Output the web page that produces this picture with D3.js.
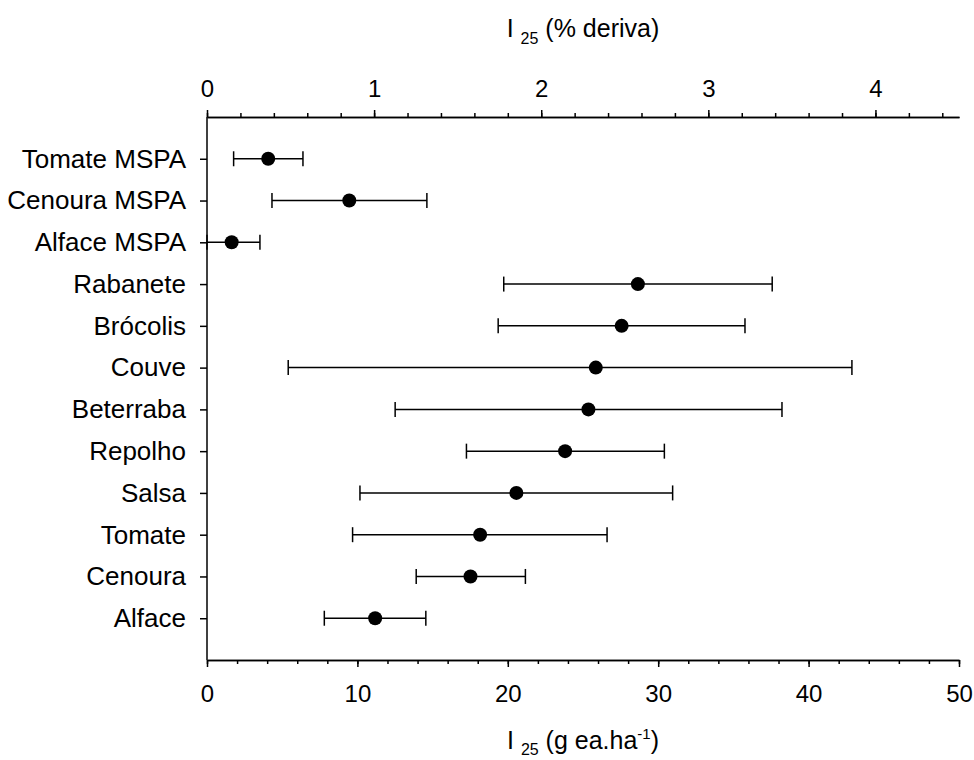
<!DOCTYPE html>
<html>
<head>
<meta charset="utf-8">
<script src="https://cdn.jsdelivr.net/npm/d3@7"></script>
<style>
body { margin: 0; background: #fff; }
text { font-family: "Liberation Sans", Arial, sans-serif; fill: #000; }
</style>
</head>
<body>
<script>
let width = 974, height = 760

// categories top to bottom
let crops = ["Tomate MSPA", "Cenoura MSPA", "Alface MSPA", "Rabanete", "Brócolis", "Couve",
    "Beterraba", "Repolho", "Salsa", "Tomate", "Cenoura", "Alface"]
// I25 (g ea/ha) estimate with lower and upper limits
let i25 = [4.07, 9.46, 1.64, 28.65, 27.57, 25.85, 25.36, 23.81, 20.57, 18.16, 17.52, 11.18]
let lower = [1.77, 4.32, 0, 19.73, 19.36, 5.4, 12.51, 17.25, 10.17, 9.68, 13.91, 7.80]
let upper = [6.38, 14.62, 3.52, 37.58, 35.77, 42.88, 38.23, 30.41, 30.96, 26.6, 21.17, 14.55]

let bottomTicks = [0, 10, 20, 30, 40, 50]
let topTicks = [0, 1, 2, 3, 4]

let margin = {left: 207, right: 15, top: 117, bottom: 100}

let svg = d3.select("body").append("svg")
    .attr("width", width)
    .attr("height", height)

let x = d3.scaleLinear().domain([0, 50]).range([margin.left, width - margin.right])
let xTop = d3.scaleLinear().domain([0, 4.5]).range([margin.left, width - margin.right])
let y = d3.scalePoint().domain(crops).range([margin.top, height - margin.bottom]).padding(1)

let data = crops.map((c, i) => ({crop: c, v: i25[i], lo: lower[i], hi: upper[i]}))

function styleAxis(g, size) {
    g.selectAll("path, line").attr("stroke", "#000").attr("stroke-width", 1.5)
    g.selectAll("text").style("font-size", (size || 25) + "px").attr("fill", "#000")
}

// bottom axis
svg.append("g")
    .attr("transform", `translate(0,${height - margin.bottom})`)
    .call(d3.axisBottom(x).tickValues(d3.range(0, 50.1, 2)).tickSize(4).tickSizeOuter(0).tickFormat(""))
    .call(styleAxis)
svg.append("g")
    .attr("transform", `translate(0,${height - margin.bottom})`)
    .call(d3.axisBottom(x).tickValues(bottomTicks).tickSize(7).tickSizeOuter(0).tickPadding(18))
    .call(styleAxis, 24)

// top axis
svg.append("g")
    .attr("transform", `translate(0,${margin.top})`)
    .call(d3.axisTop(xTop).tickValues(d3.range(0, 4.45, 0.2)).tickSize(4).tickSizeOuter(0).tickFormat(""))
    .call(styleAxis)
svg.append("g")
    .attr("transform", `translate(0,${margin.top})`)
    .call(d3.axisTop(xTop).tickValues(topTicks).tickSize(7).tickSizeOuter(0).tickPadding(13).tickFormat(d3.format("d")))
    .call(styleAxis, 24)

// left axis
svg.append("g")
    .attr("transform", `translate(${margin.left},0)`)
    .call(d3.axisLeft(y).tickSize(7).tickSizeOuter(0).tickPadding(14))
    .call(g => g.select(".domain").attr("d", `M0,${margin.top}V${height - margin.bottom}`))
    .call(styleAxis, 26)

// error bars
let bars = svg.append("g").attr("class", "bars")
bars.selectAll("line.range").data(data).enter().append("line")
    .attr("class", "range")
    .attr("x1", d => x(d.lo)).attr("x2", d => x(d.hi))
    .attr("y1", d => y(d.crop)).attr("y2", d => y(d.crop))
    .attr("stroke", "#000").attr("stroke-width", 1.5)
bars.selectAll("line.capLo").data(data).enter().append("line")
    .attr("class", "capLo")
    .attr("x1", d => x(d.lo)).attr("x2", d => x(d.lo))
    .attr("y1", d => y(d.crop) - 7.5).attr("y2", d => y(d.crop) + 7.5)
    .attr("stroke", "#000").attr("stroke-width", 1.5)
bars.selectAll("line.capHi").data(data).enter().append("line")
    .attr("class", "capHi")
    .attr("x1", d => x(d.hi)).attr("x2", d => x(d.hi))
    .attr("y1", d => y(d.crop) - 7.5).attr("y2", d => y(d.crop) + 7.5)
    .attr("stroke", "#000").attr("stroke-width", 1.5)

svg.append("g").selectAll("circle").data(data).enter().append("circle")
    .attr("cx", d => x(d.v))
    .attr("cy", d => y(d.crop))
    .attr("r", 7)
    .attr("fill", "#000")

// axis titles
let midX = (margin.left + width - margin.right) / 2
let topTitle = svg.append("text")
    .attr("x", midX).attr("y", 37)
    .attr("text-anchor", "middle")
    .style("font-size", "25px")
topTitle.append("tspan").text("I ")
topTitle.append("tspan").attr("dy", 7).style("font-size", "16px").text("25")
topTitle.append("tspan").attr("dy", -7).text(" (% deriva)")

let botTitle = svg.append("text")
    .attr("x", midX).attr("y", 749)
    .attr("text-anchor", "middle")
    .style("font-size", "25px")
botTitle.append("tspan").text("I ")
botTitle.append("tspan").attr("dy", 6).style("font-size", "16px").text("25")
botTitle.append("tspan").attr("dy", -6).text(" (g ea.ha")
botTitle.append("tspan").attr("dy", -10).style("font-size", "15px").text("-1")
botTitle.append("tspan").attr("dy", 10).text(")")
</script>
</body>
</html>
